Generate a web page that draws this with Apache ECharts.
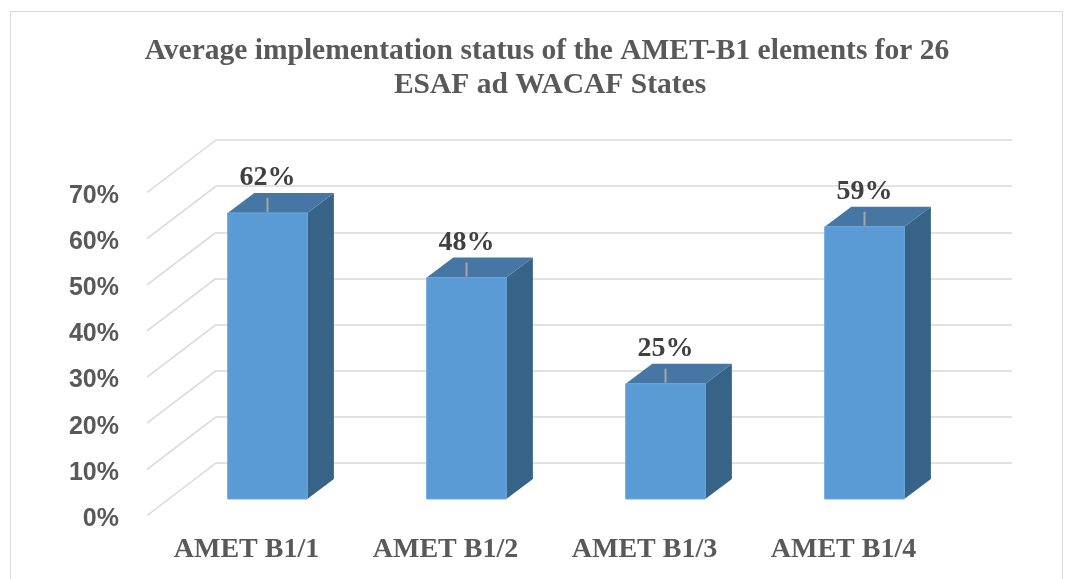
<!DOCTYPE html>
<html><head><meta charset="utf-8">
<script src="https://cdn.jsdelivr.net/npm/echarts@6/dist/echarts.min.js"></script>
<style>html,body{margin:0;padding:0;background:#fff}#c{width:1072px;height:579px}</style>
</head><body><div id="c"></div>
<script>
// ---- data ----
const categories = ['AMET B1/1', 'AMET B1/2', 'AMET B1/3', 'AMET B1/4'];
const values = [0.62, 0.48, 0.25, 0.59];
const yTicks = [0, 0.1, 0.2, 0.3, 0.4, 0.5, 0.6, 0.7];
const titleLines = ['Average implementation status of the AMET-B1 elements for 26', 'ESAF ad WACAF States'];

// ---- 3D geometry (pixels) ----
const FRONT_OFF = { dx: -21, dy: 16.5 };  // front plane -> front edge of floor
const BACK_OFF = { dx: 48, dy: -36 };     // front plane -> back wall
const BAR_DEPTH = { dx: 26.6, dy: -20 };

const SERIF = "'Liberation Serif','Times New Roman',serif";
const SANS = "'Liberation Sans',Arial,sans-serif";

const chart = echarts.init(document.getElementById('c'), null, { renderer: 'canvas' });
const pct = v => Math.round(v * 100) + '%';

chart.setOption({
  animation: false,
  backgroundColor: '#ffffff',
  grid: [
    { left: 216, right: 60, top: 140, bottom: 116, outerBoundsMode: 'none' },     // back wall
    { left: 168, right: 108, top: 176, bottom: 80, outerBoundsMode: 'none' },     // front plane (bars)
    { left: 147, right: 129, top: 196, bottom: 60, outerBoundsMode: 'none' }      // front edge of floor (labels)
  ],
  xAxis: [
    { gridIndex: 0, type: 'category', data: categories, show: false },
    { gridIndex: 1, type: 'category', data: categories, show: false },
    { gridIndex: 2, type: 'category', data: categories,
      axisLine: { show: false }, axisTick: { show: false }, splitLine: { show: false },
      axisLabel: { show: true, interval: 0, margin: 17,
        fontFamily: SERIF, fontWeight: 'bold', fontSize: 28, color: '#595959' } }
  ],
  yAxis: [
    { gridIndex: 0, type: 'value', min: 0, max: 0.7, interval: 0.1,
      axisLine: { show: false }, axisTick: { show: false }, axisLabel: { show: false },
      splitLine: { show: true, lineStyle: { color: '#d9d9d9', width: 1.5 } } },
    { gridIndex: 1, type: 'value', min: 0, max: 0.7, interval: 0.1, show: false },
    { gridIndex: 2, type: 'value', min: 0, max: 0.7, interval: 0.1,
      axisLine: { show: false }, axisTick: { show: false }, splitLine: { show: false },
      axisLabel: { show: true, margin: 28, formatter: v => pct(v),
        fontFamily: SANS, fontWeight: 'bold', fontSize: 25, color: '#595959' } }
  ],
  graphic: [
    { type: 'rect', shape: { x: 10.5, y: 11.5, width: 1052, height: 620 },
      style: { fill: 'none', stroke: '#d9d9d9', lineWidth: 1 }, silent: true, z: -1 },
    { type: 'text', x: 547, y: 51, style: { text: titleLines[0], fontFamily: SERIF, fontWeight: 'bold',
      fontSize: 29.5, fill: '#595959', align: 'center', verticalAlign: 'middle' } },
    { type: 'text', x: 550, y: 85, style: { text: titleLines[1], fontFamily: SERIF, fontWeight: 'bold',
      fontSize: 29.5, fill: '#595959', align: 'center', verticalAlign: 'middle' } }
  ],
  series: [
    { // side-wall diagonal gridlines
      type: 'custom', xAxisIndex: 1, yAxisIndex: 1, clip: false, silent: true,
      data: yTicks.map(v => [0, v]),
      renderItem: (params, api) => {
        const p = api.coord([api.value(0), api.value(1)]);
        const bw = api.size([1, 0])[0];
        const left = p[0] - bw / 2;
        return { type: 'line',
          shape: { x1: left + FRONT_OFF.dx, y1: p[1] + FRONT_OFF.dy, x2: left + BACK_OFF.dx, y2: p[1] + BACK_OFF.dy },
          style: { stroke: '#d9d9d9', lineWidth: 1.5 } };
      }
    },
    { // 3D bars
      type: 'custom', xAxisIndex: 1, yAxisIndex: 1, clip: false,
      data: values.map((v, i) => [i, v]),
      renderItem: (params, api) => {
        const top = api.coord([api.value(0), api.value(1)]);
        const base = api.coord([api.value(0), 0]);
        const bw = api.size([1, 0])[0] * 0.4;
        const x0 = top[0] - bw / 2, x1 = top[0] + bw / 2, yT = top[1], yB = base[1];
        const dx = BAR_DEPTH.dx, dy = BAR_DEPTH.dy;
        return { type: 'group', children: [
          { type: 'polygon', shape: { points: [[x1, yT], [x1 + dx, yT + dy], [x1 + dx, yB + dy], [x1, yB]] },
            style: { fill: '#386388' } },
          { type: 'polygon', shape: { points: [[x0, yT], [x0 + dx, yT + dy], [x1 + dx, yT + dy], [x1, yT]] },
            style: { fill: '#4677a4' } },
          { type: 'rect', shape: { x: x0, y: yT, width: bw, height: yB - yT },
            style: { fill: '#5b9bd5', stroke: '#6aa6dc', lineWidth: 1 } },
          { type: 'line', shape: { x1: top[0], y1: yT - 1, x2: top[0], y2: yT - 15 },
            style: { stroke: '#a6a6a6', lineWidth: 2 } },
          { type: 'text', x: top[0], y: yT - 35,
            style: { text: pct(api.value(1)), fontFamily: SERIF, fontWeight: 'bold', fontSize: 28,
              fill: '#404040', align: 'center', verticalAlign: 'middle' } }
        ] };
      }
    }
  ]
});
</script></body></html>
